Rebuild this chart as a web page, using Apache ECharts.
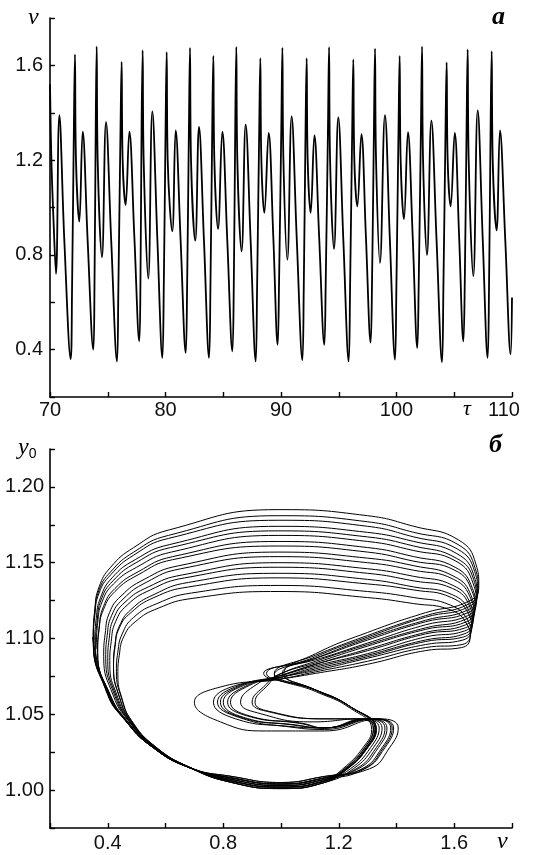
<!DOCTYPE html>
<html>
<head>
<meta charset="utf-8">
<script src="https://cdn.jsdelivr.net/npm/echarts@6/dist/echarts.min.js"></script>
<style>
  html, body { margin: 0; padding: 0; background: #fff; }
  #chart { width: 533px; height: 855px; }
</style>
</head>
<body>
<div id="chart"></div>
<script>
// panel a: v(tau), turning points
const tauV = [
  [70.0, 1.52], [70.12, 1.20], [70.30, 0.95], [70.52, 0.72], [70.81, 1.39], [71.25, 0.85],
  [71.79, 0.36], [71.91, 0.66], [72.07, 1.35], [72.16, 1.646], [72.25, 1.20], [72.54, 0.94], [72.83, 1.32], [73.26, 0.86],
  [73.75, 0.40], [73.85, 0.66], [73.96, 1.35], [74.04, 1.68], [74.13, 1.20], [74.50, 0.79], [74.85, 1.36], [75.30, 0.86],
  [75.80, 0.35], [75.92, 0.66], [76.11, 1.35], [76.20, 1.615], [76.29, 1.20], [76.55, 1.01], [76.87, 1.32], [77.30, 0.88],
  [77.73, 0.435], [77.83, 0.68], [77.93, 1.35], [78.02, 1.664], [78.11, 1.20], [78.51, 0.70], [78.86, 1.406], [79.30, 0.86],
  [79.73, 0.365], [79.85, 0.66], [80.01, 1.35], [80.10, 1.656], [80.19, 1.20], [80.59, 0.90], [80.88, 1.326], [81.31, 0.86],
  [81.75, 0.386], [81.87, 0.66], [82.03, 1.35], [82.12, 1.674], [82.21, 1.20], [82.58, 0.86], [82.90, 1.34], [83.33, 0.86],
  [83.77, 0.365], [83.89, 0.66], [84.05, 1.35], [84.14, 1.64], [84.23, 1.20], [84.55, 0.91], [84.92, 1.32], [85.35, 0.86],
  [85.79, 0.393], [85.91, 0.66], [86.04, 1.35], [86.13, 1.678], [86.22, 1.20], [86.59, 0.815], [86.94, 1.35], [87.37, 0.86],
  [87.81, 0.35], [87.93, 0.66], [88.12, 1.35], [88.21, 1.63], [88.30, 1.20], [88.56, 0.977], [88.93, 1.315], [89.33, 0.88],
  [89.71, 0.42], [89.83, 0.68], [90.03, 1.35], [90.12, 1.674], [90.21, 1.20], [90.55, 0.78], [90.92, 1.385], [91.37, 0.86],
  [91.85, 0.355], [91.97, 0.66], [92.13, 1.35], [92.22, 1.63], [92.31, 1.20], [92.57, 0.977], [92.89, 1.304], [93.30, 0.88],
  [93.75, 0.42], [93.87, 0.68], [94.07, 1.35], [94.16, 1.677], [94.25, 1.20], [94.59, 0.825], [94.96, 1.38], [95.40, 0.86],
  [95.86, 0.35], [95.98, 0.66], [96.17, 1.35], [96.26, 1.625], [96.35, 1.20], [96.61, 1.005], [96.96, 1.31], [97.35, 0.88],
  [97.76, 0.43], [97.88, 0.68], [98.05, 1.35], [98.14, 1.671], [98.23, 1.20], [98.57, 0.766], [99.00, 1.39], [99.43, 0.86],
  [99.87, 0.358], [99.99, 0.66], [100.18, 1.35], [100.27, 1.64], [100.36, 1.20], [100.65, 0.95], [100.99, 1.318], [101.40, 0.88],
  [101.80, 0.407], [101.92, 0.67], [102.12, 1.35], [102.21, 1.68], [102.30, 1.20], [102.64, 0.80], [103.02, 1.367], [103.47, 0.86],
  [103.94, 0.347], [104.06, 0.66], [104.25, 1.35], [104.34, 1.613], [104.43, 1.20], [104.69, 1.005], [105.04, 1.315], [105.42, 0.88],
  [105.79, 0.435], [105.91, 0.68], [106.07, 1.35], [106.16, 1.667], [106.25, 1.20], [106.65, 0.71], [107.03, 1.41], [107.47, 0.86],
  [107.89, 0.365], [108.01, 0.66], [108.15, 1.35], [108.24, 1.66], [108.33, 1.20], [108.67, 0.904], [108.96, 1.326], [109.42, 0.86],
  [109.88, 0.38], [110.0, 0.62]
];

// panel б: phase portrait (v, y0), one row per turn of the orbit
const orbit = [
  [[0.36,1.093],[0.365,1.110],[0.38,1.124],[0.42,1.136],[0.50,1.147],[0.62,1.157],[0.99,1.168],[1.30,1.164],[1.46,1.158],[1.606,1.151],[1.666,1.136],[1.676,1.124],[1.646,1.115],[1.50,1.109],[1.30,1.097],[1.12,1.086],[0.94,1.077],[1.12,1.066],[1.24,1.055],[1.33,1.040],[1.30,1.028],[1.23,1.014],[1.15,1.006],[1.0,1.002],[0.83,1.006],[0.683,1.015],[0.558,1.029],[0.473,1.046],[0.429,1.062]],
  [[0.40,1.085],[0.405,1.100],[0.42,1.113],[0.46,1.124],[0.54,1.134],[0.66,1.142],[0.99,1.150],[1.30,1.146],[1.46,1.141],[1.596,1.135],[1.656,1.123],[1.666,1.113],[1.636,1.105],[1.50,1.101],[1.30,1.090],[1.12,1.082],[0.99,1.075],[0.862,1.069],[0.79,1.058],[0.862,1.048],[1.04,1.043],[1.15,1.041],[1.30,1.047],[1.36,1.041],[1.33,1.028],[1.26,1.014],[1.15,1.008],[1.0,1.004],[0.83,1.008],[0.68,1.015],[0.55,1.029],[0.461,1.046],[0.399,1.064]],
  [[0.35,1.101],[0.355,1.119],[0.37,1.134],[0.41,1.147],[0.49,1.160],[0.61,1.1715],[0.99,1.185],[1.30,1.181],[1.46,1.174],[1.615,1.165],[1.675,1.149],[1.685,1.135],[1.655,1.125],[1.50,1.117],[1.30,1.104],[1.12,1.090],[1.01,1.077],[1.12,1.066],[1.24,1.055],[1.33,1.040],[1.30,1.028],[1.23,1.014],[1.15,1.005],[1.0,1.001],[0.83,1.005],[0.684,1.015],[0.563,1.029],[0.482,1.046],[0.450,1.060]],
  [[0.435,1.076],[0.44,1.089],[0.455,1.101],[0.495,1.111],[0.575,1.120],[0.695,1.1265],[0.99,1.131],[1.30,1.127],[1.46,1.123],[1.585,1.119],[1.645,1.109],[1.655,1.101],[1.625,1.094],[1.50,1.092],[1.30,1.083],[1.12,1.077],[0.99,1.073],[0.79,1.068],[0.70,1.058],[0.79,1.045],[0.95,1.039],[1.15,1.039],[1.346,1.047],[1.406,1.041],[1.376,1.028],[1.306,1.014],[1.15,1.009],[1.0,1.005],[0.83,1.009],[0.681,1.015],[0.553,1.029],[0.465,1.046],[0.408,1.063]],
  [[0.365,1.091],[0.37,1.107],[0.385,1.121],[0.425,1.133],[0.505,1.144],[0.625,1.154],[0.99,1.164],[1.30,1.160],[1.46,1.154],[1.603,1.147],[1.663,1.133],[1.673,1.122],[1.643,1.113],[1.50,1.107],[1.30,1.096],[1.12,1.085],[0.99,1.076],[0.95,1.070],[0.90,1.058],[0.95,1.052],[1.15,1.047],[1.266,1.047],[1.326,1.041],[1.296,1.028],[1.226,1.014],[1.15,1.007],[1.0,1.003],[0.83,1.007],[0.682,1.015],[0.556,1.029],[0.47,1.046],[0.420,1.062]],
  [[0.386,1.088],[0.391,1.103],[0.406,1.117],[0.446,1.128],[0.526,1.139],[0.646,1.148],[0.99,1.157],[1.30,1.153],[1.46,1.148],[1.599,1.141],[1.659,1.128],[1.669,1.117],[1.639,1.109],[1.50,1.104],[1.30,1.093],[1.12,1.083],[0.99,1.075],[0.918,1.070],[0.86,1.058],[0.918,1.051],[1.11,1.045],[1.28,1.047],[1.34,1.041],[1.31,1.028],[1.24,1.014],[1.15,1.006],[1.0,1.002],[0.83,1.006],[0.681,1.015],[0.553,1.029],[0.465,1.046],[0.408,1.063]],
  [[0.365,1.090],[0.37,1.106],[0.385,1.119],[0.425,1.131],[0.505,1.142],[0.625,1.152],[0.99,1.161],[1.30,1.157],[1.46,1.151],[1.602,1.145],[1.662,1.131],[1.672,1.120],[1.642,1.111],[1.50,1.106],[1.30,1.095],[1.12,1.084],[0.99,1.076],[0.958,1.070],[0.91,1.058],[0.958,1.052],[1.16,1.047],[1.26,1.047],[1.32,1.041],[1.29,1.028],[1.22,1.014],[1.15,1.008],[1.0,1.004],[0.83,1.008],[0.682,1.015],[0.557,1.029],[0.472,1.046],[0.425,1.062]],
  [[0.393,1.087],[0.398,1.102],[0.413,1.115],[0.453,1.126],[0.533,1.137],[0.653,1.146],[0.99,1.154],[1.30,1.150],[1.46,1.145],[1.598,1.139],[1.658,1.126],[1.668,1.116],[1.638,1.107],[1.50,1.103],[1.30,1.092],[1.12,1.083],[0.99,1.075],[0.882,1.069],[0.815,1.058],[0.882,1.049],[1.065,1.044],[1.15,1.041],[1.29,1.047],[1.35,1.041],[1.32,1.028],[1.25,1.014],[1.15,1.005],[1.0,1.001],[0.83,1.005],[0.68,1.015],[0.55,1.029],[0.461,1.046],[0.399,1.064]],
  [[0.35,1.099],[0.355,1.117],[0.37,1.132],[0.41,1.144],[0.49,1.157],[0.61,1.168],[0.99,1.181],[1.30,1.177],[1.46,1.170],[1.613,1.162],[1.673,1.146],[1.683,1.133],[1.653,1.123],[1.50,1.115],[1.30,1.102],[1.12,1.089],[0.977,1.077],[1.12,1.066],[1.24,1.055],[1.325,1.040],[1.295,1.028],[1.225,1.014],[1.15,1.007],[1.0,1.003],[0.83,1.007],[0.684,1.015],[0.561,1.029],[0.478,1.046],[0.441,1.061]],
  [[0.42,1.082],[0.425,1.096],[0.44,1.108],[0.48,1.119],[0.56,1.129],[0.68,1.137],[0.99,1.143],[1.30,1.139],[1.46,1.134],[1.592,1.129],[1.652,1.118],[1.662,1.109],[1.632,1.101],[1.50,1.098],[1.30,1.088],[1.12,1.080],[0.99,1.074],[0.854,1.069],[0.78,1.058],[0.854,1.048],[1.03,1.042],[1.15,1.041],[1.325,1.047],[1.385,1.041],[1.355,1.028],[1.285,1.014],[1.15,1.009],[1.0,1.005],[0.83,1.009],[0.68,1.015],[0.551,1.029],[0.462,1.046],[0.402,1.064]],
  [[0.355,1.096],[0.36,1.113],[0.375,1.127],[0.415,1.140],[0.495,1.152],[0.615,1.162],[0.99,1.174],[1.30,1.170],[1.46,1.164],[1.609,1.156],[1.669,1.141],[1.679,1.128],[1.649,1.119],[1.50,1.112],[1.30,1.100],[1.12,1.087],[0.977,1.076],[1.12,1.065],[1.24,1.054],[1.314,1.040],[1.284,1.028],[1.214,1.014],[1.15,1.006],[1.0,1.002],[0.83,1.006],[0.684,1.015],[0.561,1.029],[0.478,1.046],[0.441,1.061]],
  [[0.42,1.080],[0.425,1.094],[0.44,1.107],[0.48,1.117],[0.56,1.127],[0.68,1.134],[0.99,1.140],[1.30,1.136],[1.46,1.132],[1.590,1.127],[1.650,1.116],[1.660,1.107],[1.630,1.099],[1.50,1.096],[1.30,1.087],[1.12,1.079],[0.99,1.074],[0.89,1.069],[0.825,1.058],[0.89,1.049],[1.075,1.044],[1.15,1.041],[1.32,1.047],[1.38,1.041],[1.35,1.028],[1.28,1.014],[1.15,1.008],[1.0,1.004],[0.83,1.008],[0.68,1.015],[0.55,1.029],[0.461,1.046],[0.399,1.064]],
  [[0.35,1.098],[0.355,1.115],[0.37,1.130],[0.41,1.142],[0.49,1.155],[0.61,1.166],[0.99,1.178],[1.30,1.174],[1.46,1.167],[1.611,1.159],[1.671,1.144],[1.681,1.131],[1.651,1.121],[1.50,1.114],[1.30,1.101],[1.12,1.088],[1.005,1.077],[1.12,1.066],[1.24,1.055],[1.32,1.040],[1.29,1.028],[1.22,1.014],[1.15,1.005],[1.0,1.001],[0.83,1.005],[0.684,1.015],[0.562,1.029],[0.481,1.046],[0.447,1.061]],
  [[0.43,1.078],[0.435,1.091],[0.45,1.103],[0.49,1.114],[0.57,1.123],[0.69,1.130],[0.99,1.135],[1.30,1.131],[1.46,1.127],[1.587,1.122],[1.647,1.112],[1.657,1.104],[1.627,1.096],[1.50,1.094],[1.30,1.085],[1.12,1.078],[0.99,1.073],[0.843,1.069],[0.766,1.058],[0.843,1.047],[1.016,1.042],[1.15,1.040],[1.33,1.047],[1.39,1.041],[1.36,1.028],[1.29,1.014],[1.15,1.007],[1.0,1.003],[0.83,1.007],[0.681,1.015],[0.552,1.029],[0.463,1.046],[0.404,1.064]],
  [[0.358,1.095],[0.363,1.111],[0.378,1.126],[0.418,1.138],[0.498,1.150],[0.618,1.160],[0.99,1.171],[1.30,1.167],[1.46,1.161],[1.607,1.153],[1.667,1.139],[1.677,1.126],[1.647,1.117],[1.50,1.111],[1.30,1.099],[1.12,1.087],[0.95,1.077],[1.12,1.066],[1.24,1.055],[1.328,1.040],[1.298,1.028],[1.228,1.014],[1.15,1.006],[1.0,1.002],[0.83,1.006],[0.683,1.015],[0.559,1.029],[0.475,1.046],[0.433,1.062]],
  [[0.407,1.083],[0.412,1.098],[0.427,1.111],[0.467,1.122],[0.547,1.132],[0.667,1.140],[0.99,1.147],[1.30,1.143],[1.46,1.138],[1.594,1.133],[1.654,1.121],[1.664,1.111],[1.634,1.103],[1.50,1.099],[1.30,1.089],[1.12,1.081],[0.99,1.074],[0.87,1.069],[0.80,1.058],[0.87,1.048],[1.05,1.043],[1.15,1.041],[1.307,1.047],[1.367,1.041],[1.337,1.028],[1.267,1.014],[1.15,1.008],[1.0,1.004],[0.83,1.008],[0.68,1.015],[0.55,1.029],[0.46,1.046],[0.397,1.064],[0.347,1.101]]
];

const tauLabels = [70, 80, 90, 100, 110];
const vLabels = [0.4, 0.8, 1.2, 1.6];
const y0Labels = [1.00, 1.05, 1.10, 1.15, 1.20];

const chart = echarts.init(document.getElementById('chart'));

const onlyAt = (labels, digits) => (val) =>
  labels.some(l => Math.abs(l - val) < 1e-6) ? val.toFixed(digits) : '';

const axisBase = {
  type: 'value',
  axisLine: { show: true, onZero: false, lineStyle: { color: '#000', width: 1.6 } },
  axisTick: { show: true, inside: true, length: 5, lineStyle: { color: '#000', width: 1.4 } },
  splitLine: { show: false },
  axisLabel: { color: '#111', fontFamily: 'Liberation Sans', fontSize: 20 }
};

const serifItalic = { fontFamily: 'Liberation Serif', fontStyle: 'italic', fill: '#000' };

const option = {
  backgroundColor: '#fff',
  animation: false,
  grid: [
    { left: 50, top: 18, width: 462, height: 379 },
    { left: 50, top: 449, width: 462, height: 379 }
  ],
  xAxis: [
    { ...axisBase, gridIndex: 0, min: 70, max: 110, interval: 5,
      axisLabel: { ...axisBase.axisLabel, margin: 3,
        // last label sits a little left of its tick, as in the figure
        formatter: (val) => {
          const t = onlyAt(tauLabels, 0)(val);
          return val === 110 ? '{r|' + t + '}' : t;
        },
        rich: { r: { fontFamily: 'Liberation Sans', fontSize: 20, color: '#111', padding: [0, 16, 0, 0] } } } },
    { ...axisBase, gridIndex: 1, min: 0.2, max: 1.8, interval: 0.2,
      axisLabel: { ...axisBase.axisLabel, margin: 5, formatter: onlyAt(vLabels, 1) } }
  ],
  yAxis: [
    { ...axisBase, gridIndex: 0, min: 0.2, max: 1.8, interval: 0.2,
      axisLabel: { ...axisBase.axisLabel, margin: 7, formatter: onlyAt(vLabels, 1) } },
    { ...axisBase, gridIndex: 1, min: 0.975, max: 1.225, interval: 0.025,
      axisLabel: { ...axisBase.axisLabel, margin: 6, formatter: onlyAt(y0Labels, 2) } }
  ],
  series: [
    {
      type: 'line', xAxisIndex: 0, yAxisIndex: 0,
      data: tauV, showSymbol: false, smooth: 0.4, clip: true,
      lineStyle: { color: '#000', width: 1.8 }
    },
    {
      type: 'line', xAxisIndex: 1, yAxisIndex: 1,
      data: orbit.flat(), showSymbol: false, smooth: 0.5,
      lineStyle: { color: '#000', width: 1 }
    }
  ],
  graphic: [
    { type: 'text', left: 28, top: 6, style: { ...serifItalic, text: 'v', fontSize: 24 } },
    { type: 'text', left: 492, top: 4, style: { ...serifItalic, text: 'a', fontSize: 26, fontWeight: 'bold' } },
    { type: 'text', left: 463, top: 398, style: { ...serifItalic, text: 'τ', fontSize: 22 } },
    { type: 'text', left: 18, top: 436, style: { ...serifItalic, text: '{y|y}{s|0}',
        rich: { y: { fontFamily: 'Liberation Serif', fontStyle: 'italic', fontSize: 24 },
                s: { fontFamily: 'Liberation Sans', fontSize: 14, padding: [12, 0, 0, 0] } } } },
    { type: 'text', left: 489, top: 432, style: { ...serifItalic, text: 'б', fontSize: 26, fontWeight: 'bold' } },
    { type: 'text', left: 497, top: 830, style: { ...serifItalic, text: 'v', fontSize: 24 } }
  ]
};

chart.setOption(option);
</script>
</body>
</html>
